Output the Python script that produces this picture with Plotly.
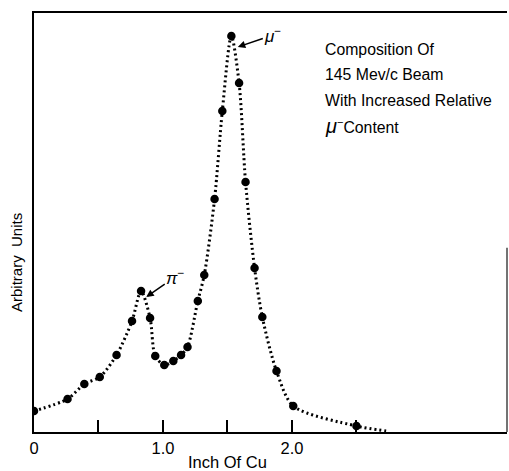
import plotly.graph_objects as go

# Data
thickness_in = [0.00, 0.26, 0.39, 0.51, 0.64, 0.76, 0.83, 0.90, 0.94, 1.01, 1.08, 1.14, 1.19,
                1.27, 1.32, 1.40, 1.46, 1.53, 1.59, 1.64, 1.71, 1.77, 1.88, 2.01, 2.50]
intensity = [21, 33, 48, 55, 77, 111, 141, 114, 76, 67, 71, 77, 85,
             131, 157, 233, 321, 396, 349, 250, 164, 115, 61, 26, 6]
tail_x = [2.73]
tail_y = [1]

major_ticks = [0, 1.0, 2.0]
major_text = ["0", "1.0", "2.0"]
minor_ticks = [0.5, 1.5, 2.5]

note_lines = ["Composition Of", "145 Mev/c Beam", "With Increased Relative",
              "<i><span style='font-size:20px'>μ</span></i><sup>−</sup>Content"]
note_y = [383, 358, 332, 306]

FONT = "Liberation Sans"

fig = go.Figure()
fig.add_trace(go.Scatter(
    x=thickness_in + tail_x, y=intensity + tail_y, mode="lines",
    line=dict(color="black", width=3, dash="2px,3px", shape="spline", smoothing=0.8),
    hoverinfo="skip", showlegend=False))
fig.add_trace(go.Scatter(
    x=thickness_in, y=intensity, mode="markers",
    marker=dict(color="black", size=8.5), showlegend=False))

# peaks for labels
i_pi = intensity.index(max(intensity[:10]))
i_mu = intensity.index(max(intensity))

fig.add_annotation(x=thickness_in[i_pi] + 0.04, y=intensity[i_pi] - 6, text="<i>π</i><sup>−</sup>",
                   showarrow=True, arrowhead=2, arrowsize=1, arrowwidth=1.5, arrowcolor="black",
                   ax=29, ay=-20, font=dict(family=FONT, size=17, color="black"))
fig.add_annotation(x=thickness_in[i_mu] + 0.05, y=intensity[i_mu] - 11, text="<i>μ</i><sup>−</sup>",
                   showarrow=True, arrowhead=2, arrowsize=1, arrowwidth=1.5, arrowcolor="black",
                   ax=35, ay=-12, font=dict(family=FONT, size=17, color="black"))

for t, yv in zip(note_lines, note_y):
    fig.add_annotation(x=0.612, xref="paper", y=yv, yref="y", text=t, showarrow=False,
                       xanchor="left", yanchor="middle",
                       font=dict(family=FONT, size=15.8, color="black"))

fig.add_annotation(x=1.5, y=0, yref="paper", yshift=-30, text="Inch Of Cu", showarrow=False,
                   yanchor="middle", font=dict(family=FONT, size=16.5, color="black"))
fig.add_annotation(x=0, xref="paper", xshift=-18, y=169, text="Arbitrary  Units", showarrow=False,
                   textangle=-90, xanchor="center", yanchor="middle",
                   font=dict(family=FONT, size=15, color="black"))

# partial right border
fig.add_shape(type="line", xref="paper", yref="paper", x0=1, x1=1, y0=0, y1=0.44,
              line=dict(color="#444", width=1.5))

fig.update_layout(
    width=509, height=471,
    margin=dict(l=34, r=2, t=13, b=39),
    paper_bgcolor="white", plot_bgcolor="white",
    xaxis=dict(range=[0, 3.667], tickvals=major_ticks, ticktext=major_text,
               ticks="inside", ticklen=12, tickwidth=2, tickcolor="black",
               minor=dict(tickvals=minor_ticks, ticks="inside", ticklen=12, tickwidth=2,
                          tickcolor="black", showgrid=False),
               showline=True, linecolor="black", linewidth=2, mirror=True,
               showgrid=False, zeroline=False,
               tickfont=dict(family=FONT, size=16.5, color="black")),
    yaxis=dict(range=[0, 419], showticklabels=False, ticks="",
               showline=True, linecolor="black", linewidth=2,
               showgrid=False, zeroline=False),
)

fig.write_html("out.html")
